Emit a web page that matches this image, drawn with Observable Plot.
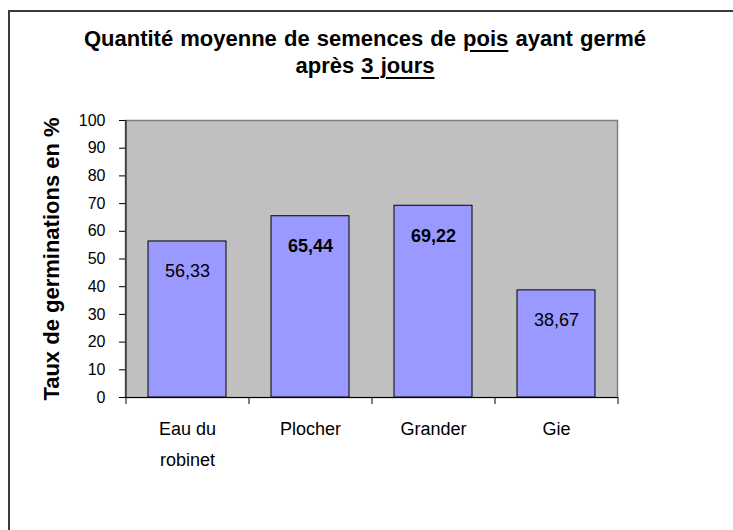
<!DOCTYPE html>
<html><head><meta charset="utf-8">
<script src="https://cdn.jsdelivr.net/npm/d3@7"></script>
<script src="https://cdn.jsdelivr.net/npm/@observablehq/plot@0.6"></script>
<style>
body{margin:0;background:#fff;}
#wrap{position:relative;width:733px;height:530px;overflow:hidden;font-family:Arial,"Liberation Sans",sans-serif;}
#border{position:absolute;left:8px;top:10px;right:0;bottom:0;border-left:2px solid #3a3a3a;border-top:2px solid #3a3a3a;}
#title{position:absolute;left:0;top:25px;width:730px;text-align:center;font-weight:bold;font-size:22px;line-height:27px;color:#000;word-spacing:1px;}
#title u{text-decoration-thickness:1.5px;text-underline-offset:4px;}
#chart{position:absolute;left:0;top:0;}
</style></head>
<body><div id="wrap"><div id="border"></div><div id="chart"></div><div id="title"></div></div>
<script>
const categories = ["Eau du robinet", "Plocher", "Grander", "Gie"];
const values = [56.33, 65.44, 69.22, 38.67];
const valueLabels = ["56,33", "65,44", "69,22", "38,67"];
const yTicks = [0, 10, 20, 30, 40, 50, 60, 70, 80, 90, 100];
const yLabel = "Taux de germinations en %";
const titleLine1 = ["Quantité moyenne de semences de ", "pois", " ayant germé"];
const titleLine2 = ["après ", "3 jours"];

// title (underlined words as in the original)
const t = document.getElementById("title");
t.append(titleLine1[0]);
const u1 = document.createElement("u"); u1.textContent = titleLine1[1]; t.append(u1);
t.append(titleLine1[2]);
t.append(document.createElement("br"));
t.append(titleLine2[0]);
const u2 = document.createElement("u"); u2.textContent = titleLine2[1]; t.append(u2);

const data = categories.map((c, i) => ({category: c, value: values[i], label: valueLabels[i], i}));
const boldIdx = new Set([1, 2]);
const mL = 125, mR = 116, W = 733;
const half = (W - mL - mR) / categories.length / 2;

const plot = Plot.plot({
  width: W, height: 530,
  marginLeft: mL, marginRight: mR, marginTop: 120, marginBottom: 133,
  style: {fontFamily: "Arial, 'Liberation Sans', sans-serif", background: "transparent", color: "black"},
  x: {domain: categories, paddingInner: 0.366, paddingOuter: 0.183, axis: null},
  y: {domain: [0, 100], axis: null},
  marks: [
    Plot.frame({fill: "#C0C0C0", stroke: "#808080", strokeWidth: 1.5}),
    Plot.barY(data, {x: "category", y: "value", fill: "#9999FF", stroke: "#000", strokeWidth: 1}),
    Plot.ruleY([0], {stroke: "#000"}),
    Plot.ruleX([categories[0]], {x: d => d, dx: -half, y1: 0, y2: 100, stroke: "#000"}),
    Plot.ruleX(categories, {x: d => d, dx: -half, y1: 0, y2: 0, insetBottom: -7, stroke: "#000"}),
    Plot.ruleX([categories[categories.length - 1]], {x: d => d, dx: half, y1: 0, y2: 0, insetBottom: -7, stroke: "#000"}),
    Plot.axisY({ticks: yTicks, tickSize: 6, tickPadding: 14, fontSize: 16, label: null, stroke: "#000"}),
    Plot.text([yLabel], {frameAnchor: "left", textAnchor: "middle", lineAnchor: "bottom", rotate: -90, dx: -67, fontSize: 22, fontWeight: "bold", fill: "#000"}),
    Plot.text(categories, {x: d => d, frameAnchor: "bottom", lineAnchor: "top", dy: 16, fontSize: 18, lineWidth: 4.2, lineHeight: 1.72, fill: "#000"}),
    Plot.text(data.filter(d => !boldIdx.has(d.i)), {x: "category", y: "value", text: "label", dy: 30, fontSize: 18, fill: "#000"}),
    Plot.text(data.filter(d => boldIdx.has(d.i)), {x: "category", y: "value", text: "label", dy: 30, fontSize: 18, fontWeight: "bold", fill: "#000"})
  ]
});
document.getElementById("chart").append(plot);
</script>
</body></html>
